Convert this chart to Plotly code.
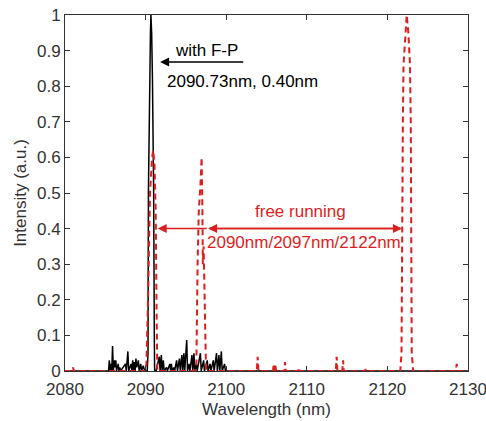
import plotly.graph_objects as go

# ---- data ----
fp_wavelength = [2080.0, 2085.4, 2085.5, 2085.6, 2085.7, 2085.8, 2085.9, 2086.0, 2086.1, 2086.2,
                 2086.3, 2086.4, 2086.6, 2086.7, 2086.8, 2086.9, 2087.5, 2087.6, 2087.8, 2087.9,
                 2088.2, 2088.3, 2088.4, 2088.5, 2088.6, 2088.7, 2088.8, 2088.9, 2089.1, 2089.2,
                 2089.4, 2089.5, 2089.7, 2089.9, 2090.2, 2090.3, 2090.35, 2090.5, 2090.6, 2090.66,
                 2090.75, 2090.85, 2091.0, 2091.08, 2091.12, 2091.3, 2091.7, 2091.8, 2091.95, 2092.05,
                 2092.2, 2092.3, 2092.6, 2092.7, 2093.0, 2093.1, 2093.2, 2093.3, 2093.5, 2093.6,
                 2093.85, 2093.95, 2094.2, 2094.3, 2094.5, 2094.6, 2094.75, 2094.85, 2095.1, 2095.2,
                 2095.4, 2095.5, 2095.75, 2095.85, 2096.0, 2096.1, 2096.3, 2096.4, 2096.8, 2096.9,
                 2097.2, 2097.3, 2097.65, 2097.75, 2098.0, 2098.1, 2098.4, 2098.5, 2098.8, 2098.9,
                 2099.1, 2099.2, 2099.4, 2099.5, 2099.8, 2099.9, 2100.0, 2130.0]
fp_intensity = [0.0, 0.0, 0.03, 0.0, 0.02, 0.0, 0.07, 0.0, 0.03, 0.01,
                0.03, 0.0, 0.02, 0.0, 0.01, 0.0, 0.02, 0.0, 0.055, 0.0,
                0.02, 0.0, 0.03, 0.0, 0.025, 0.0, 0.035, 0.01, 0.03, 0.0,
                0.02, 0.0, 0.015, 0.0, 0.0, 0.05, 0.5, 0.85, 0.95, 1.0,
                0.95, 0.82, 0.5, 0.1, 0.0, 0.0, 0.04, 0.0, 0.045, 0.0,
                0.03, 0.0, 0.01, 0.0, 0.02, 0.0, 0.02, 0.0, 0.01, 0.0,
                0.03, 0.0, 0.035, 0.0, 0.045, 0.0, 0.05, 0.0, 0.087, 0.0,
                0.02, 0.0, 0.045, 0.0, 0.05, 0.0, 0.02, 0.0, 0.05, 0.0,
                0.03, 0.0, 0.03, 0.0, 0.02, 0.0, 0.03, 0.0, 0.05, 0.0,
                0.045, 0.0, 0.055, 0.0, 0.02, 0.0, 0.0, 0.0]

free_wavelength = [2080.0, 2080.9, 2081.0, 2081.1, 2089.9, 2090.1, 2090.3, 2090.55, 2090.8, 2090.95,
                   2091.1, 2091.25, 2091.35, 2091.45, 2096.0, 2096.3, 2096.45, 2096.6, 2096.8, 2096.95,
                   2097.05, 2097.1, 2097.2, 2097.35, 2097.5, 2103.8, 2103.9, 2104.0, 2105.8, 2105.9,
                   2106.0, 2106.1, 2106.2, 2107.2, 2107.3, 2107.4, 2108.9, 2109.0, 2109.1, 2113.6,
                   2113.7, 2113.8, 2114.4, 2114.5, 2114.6, 2117.2, 2117.3, 2117.4, 2121.6, 2121.75,
                   2121.8, 2121.92, 2122.0, 2122.2, 2122.4, 2122.6, 2122.8, 2122.9, 2122.98, 2123.02,
                   2123.2, 2128.5, 2128.6, 2128.7, 2130.0]
free_intensity = [0.0, 0.0, 0.01, 0.0, 0.0, 0.02, 0.2, 0.5, 0.6, 0.62,
                  0.58, 0.45, 0.2, 0.0, 0.0, 0.02, 0.3, 0.45, 0.52, 0.6,
                  0.45, 0.3, 0.35, 0.1, 0.0, 0.0, 0.04, 0.0, 0.0, 0.02,
                  0.0, 0.015, 0.0, 0.0, 0.025, 0.0, 0.0, 0.01, 0.0, 0.0,
                  0.04, 0.0, 0.0, 0.03, 0.0, 0.0, 0.005, 0.0, 0.0, 0.05,
                  0.4, 0.7, 0.86, 0.95, 1.0, 0.95, 0.86, 0.7, 0.4, 0.05,
                  0.0, 0.0, 0.02, 0.0, 0.0]

x_ticks = [2080, 2090, 2100, 2110, 2120, 2130]
y_ticks = [0, 0.1, 0.2, 0.3, 0.4, 0.5, 0.6, 0.7, 0.8, 0.9, 1]
y_tick_labels = ["0", "0.1", "0.2", "0.3", "0.4", "0.5", "0.6", "0.7", "0.8", "0.9", "1"]

FONT = "Liberation Sans, Arial, sans-serif"
RED = "#dc1e1e"
AX = "#333333"

fig = go.Figure()
fig.add_trace(go.Scatter(x=fp_wavelength, y=fp_intensity, mode="lines",
                         line=dict(color="black", width=1.5), showlegend=False))
fig.add_trace(go.Scatter(x=free_wavelength, y=free_intensity, mode="lines",
                         line=dict(color=RED, width=2, dash="6px,4px"), showlegend=False))

# black annotation
fig.add_annotation(x=2097.6, y=0.90, text="with F-P", showarrow=False,
                   font=dict(family=FONT, size=17, color="black"))
fig.add_annotation(x=2091.8, y=0.868, ax=2102.3, ay=0.868, axref="x", ayref="y",
                   text="", showarrow=True, arrowhead=2, arrowsize=1.2, arrowwidth=1.5,
                   arrowcolor="black")
fig.add_annotation(x=2101.96, y=0.812, text="2090.73nm, 0.40nm", showarrow=False,
                   font=dict(family=FONT, size=17, color="black"))

# red annotation
fig.add_annotation(x=2109.2, y=0.447, text="free running", showarrow=False,
                   font=dict(family=FONT, size=17, color=RED))
fig.add_annotation(x=2109.7, y=0.36, text="2090nm/2097nm/2122nm", showarrow=False,
                   font=dict(family=FONT, size=17, color=RED))
fig.add_annotation(x=2091.5, y=0.4, ax=2097.75, ay=0.4, axref="x", ayref="y",
                   text="", showarrow=True, arrowhead=2, arrowsize=1.2, arrowwidth=1.5,
                   arrowcolor=RED)
fig.add_annotation(x=2097.75, y=0.4, ax=2121.8, ay=0.4, axref="x", ayref="y",
                   text="", showarrow=True, arrowhead=2, arrowsize=1.2, arrowwidth=1.5,
                   arrowcolor=RED)
fig.add_annotation(x=2121.8, y=0.4, ax=2097.75, ay=0.4, axref="x", ayref="y",
                   text="", showarrow=True, arrowhead=2, arrowsize=1.2, arrowwidth=1.5,
                   arrowcolor=RED)

fig.update_layout(
    width=486, height=421,
    margin=dict(l=65, r=18, t=15, b=50, autoexpand=False),
    paper_bgcolor="white", plot_bgcolor="white",
    font=dict(family=FONT, size=16, color=AX),
    xaxis=dict(range=[2080, 2130], tickvals=x_ticks, ticks="inside", ticklen=5,
               tickcolor=AX, showline=True, linecolor=AX, linewidth=1, mirror="ticks",
               showgrid=False, zeroline=False, tickfont=dict(size=17), automargin=False,
               ticklabeloverflow="allow", ticklabelstandoff=3,
               title=dict(text="Wavelength (nm)", font=dict(size=17), standoff=4)),
    yaxis=dict(range=[0, 1], tickvals=y_ticks, ticktext=y_tick_labels, ticks="inside",
               ticklen=5, tickcolor=AX, showline=True, linecolor=AX, linewidth=1,
               mirror="ticks", showgrid=False, zeroline=False, tickfont=dict(size=17),
               automargin=False, ticklabeloverflow="allow",
               title=dict(text="Intensity (a.u.)", font=dict(size=17), standoff=6)),
)

fig.write_html("out.html", config={"displayModeBar": False},
               post_script="document.body.style.margin='0';document.body.style.overflow='hidden';")
